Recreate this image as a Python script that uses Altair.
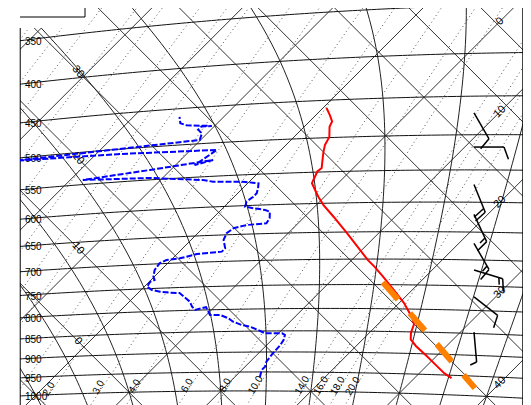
import numpy as np
import pandas as pd
import altair as alt

# ---------------- values ----------------
pressure_levels = [1000, 950, 900, 850, 800, 750, 700, 650, 600, 550, 500, 450, 400, 350]
isotherm_labels = [0, 10, 20, 30, 40]
theta_labels = [0, 10, 20, 30]
mixing_ratios = [0.1, 0.15, 0.2, 0.3, 0.4, 0.6, 0.8, 1.0, 1.5, 2.0, 3.0, 4.0, 6.0, 8.0, 10.0, 14.0, 16.0, 18.0, 20.0]
mixing_labels = [2.0, 3.0, 4.0, 6.0, 8.0, 10.0, 14.0, 16.0, 18.0, 20.0]
moist_thetaw = [-20, -15, -10, -5, 0, 5, 10, 15, 20, 25, 30, 35, 40, 45]

temp_p = [460, 469, 478, 485, 499, 510, 520, 535, 544, 549, 562, 567, 578, 589, 603, 623,
          637, 652, 702, 715, 734, 760, 787, 819, 833, 852, 867, 882, 904, 927, 946, 957]
temp_t = [-9.6, -8.5, -7.5, -7.2, -6.1, -5.7, -5.1, -4.1, -3.5, -3.6, -3.1, -2.9, -1.8, -0.7, 0.8, 3.2,
          4.8, 6.5, 11.8, 13.3, 15.3, 17.9, 20.5, 23.1, 24.0, 24.6, 25.3, 26.6, 28.8, 31.0, 32.8, 34.1]

dew_p = [963.7, 944.9, 936.4, 923.9, 903.1, 883.0, 871.2, 859.5, 855.5, 855.3, 855.3, 847.5, 839.7,
         835.5, 827.7, 819.8, 811.9, 811.5, 794.0, 799.5, 792.1, 781.0, 761.6, 760.3, 757.4, 753.0,
         745.7, 735.5, 732.4, 725.5, 712.1, 699.1, 693.2, 691.0, 683.9, 681.1, 674.9, 659.2, 647.2,
         638.6, 633.6, 631.8, 623.1, 611.8, 608.6, 604.9, 601.8, 593.4, 585.7, 580.2, 572.3, 564.3,
         563.0, 560.8, 559.8, 558.6, 555.1, 547.0, 542.7, 534.5, 525.0, 531.1, 521.3, 510.4, 507.1,
         503.5, 500.1, 494.6, 485.3, 480.2, 475.9, 476.1, 472.9, 469.5, 460.7]
dew_t = [12.8, 12.2, 12.2, 11.8, 11.6, 11.5, 11.3, 10.9, 10.4, 9.4, 8.5, 7.4, 6.1,
         5.0, 3.7, 2.8, 1.5, 0.4, -0.9, -1.8, -2.5, -3.3, -5.4, -6.5, -7.7, -8.8,
         -9.7, -9.9, -9.6, -10.1, -10.7, -10.9, -10.5, -9.2, -7.8, -5.3, -5.3, -6.4, -6.8,
         -6.6, -5.5, -3.5, -3.7, -4.4, -5.1, -6.6, -7.7, -8.1, -7.9, -7.9, -8.3, -8.8,
         -9.5, -10.7, -12.1, -14.0, -15.3, -21.4, -28.6, -22.3, -16.4, -17.9, -17.5, -17.1, -27.4,
         -38.5, -28.9, -20.1, -20.6, -21.4, -21.4, -20.3, -23.2, -24.1, -24.9]

parcel_p = [745, 980]
parcel_t = [15.9, 37.8]

wind_p = [471, 517, 572, 620, 670, 719, 772, 847]
wind_dir = [150, 90, 158, 155, 150, 107, 128, 175]
wind_spd = [10, 10, 20, 15, 15, 15, 10, 5]

# ---------------- tephigram geometry ----------------
KAPPA = 0.286
KS = 286.0           # entropy axis scale
U_MIN, U_MAX = -24.14, 87.15
W_MAX = 85.02
WIDTH, HEIGHT = 503, 397
PX = WIDTH / (U_MAX - U_MIN)          # pixels per unit
W_MIN = W_MAX - HEIGHT / PX


def to_uw(t, p):
    t = np.asarray(t, float)
    p = np.asarray(p, float)
    L = KS * (np.log((t + 273.15) / 273.15) + KAPPA * np.log(1000.0 / p))
    return t + L, L - t


def td_from_w(w, p):
    e = w * p / (622.0 + w)
    g = np.log(e / 6.112)
    return 243.5 * g / (17.67 - g)


def lines_df(curves):
    rows = []
    for cid, (uu, ww) in enumerate(curves):
        for i, (a, b) in enumerate(zip(uu, ww)):
            rows.append({"u": float(a), "w": float(b), "id": cid, "o": i})
    return pd.DataFrame(rows)


tt = np.arange(-100, 70, 0.5)


def isobar_w_at(u0, p):
    uu, ww = to_uw(tt, np.full_like(tt, p))
    return float(np.interp(u0, uu, ww))


# isobars
iso_p = list(range(1100, 199, -50))
isobar_curves = [to_uw(tt, np.full_like(tt, p)) for p in iso_p]

# isotherms (straight)
Ls = np.array([-60.0, 160.0])
isotherm_curves = [(T + Ls, Ls - T) for T in range(-120, 71, 10)]

# dry adiabats (straight)
Tr = np.array([-140.0, 80.0])
dry_curves = []
for th in range(-90, 201, 10):
    L = KS * np.log((th + 273.15) / 273.15)
    dry_curves.append((Tr + L, L - Tr))

# mixing ratio lines
pp = np.arange(1100, 199, -10.0)
mix_curves = [to_uw(td_from_w(w, pp), pp) for w in mixing_ratios]


# moist adiabats (pseudo-adiabatic integration)
def moist_profile(tw):
    Rd, cp, Lv, eps = 287.04, 1005.7, 2.501e6, 0.622

    def f(T, p):
        es = 6.112 * np.exp(17.67 * (T - 273.15) / (T - 273.15 + 243.5))
        rs = eps * es / (p - es)
        return (Rd * T + Lv * rs) / (p * (cp + Lv * Lv * rs * eps / (Rd * T * T)))

    out_p, out_t = [], []
    for p_end in (1100.0, 150.0):
        T = tw + 273.15
        p = 1000.0
        dp = 2.0 if p_end > 1000 else -2.0
        ps, ts = [p], [T]
        while (p < p_end) if dp > 0 else (p > p_end):
            k1 = f(T, p)
            k2 = f(T + 0.5 * dp * k1, p + 0.5 * dp)
            k3 = f(T + 0.5 * dp * k2, p + 0.5 * dp)
            k4 = f(T + dp * k3, p + dp)
            T += dp * (k1 + 2 * k2 + 2 * k3 + k4) / 6
            p += dp
            ps.append(p)
            ts.append(T)
        if dp > 0:
            out_p = ps[::-1] + out_p
            out_t = ts[::-1] + out_t
        else:
            out_p = out_p + ps[1:]
            out_t = out_t + ts[1:]
    return np.array(out_t) - 273.15, np.array(out_p)


moist_curves = []
for tw in moist_thetaw:
    t_, p_ = moist_profile(tw)
    moist_curves.append(to_uw(t_[::5], p_[::5]))

xs = alt.Scale(domain=[U_MIN, U_MAX], nice=False, zero=False)
ys = alt.Scale(domain=[W_MIN, W_MAX], nice=False, zero=False)
X = alt.X("u:Q", scale=xs, axis=None)
Y = alt.Y("w:Q", scale=ys, axis=None)


def grid_layer(curves, color, width=1.0, dash=None, opacity=1.0):
    kw = dict(color=color, strokeWidth=width, clip=True, opacity=opacity)
    if dash:
        kw["strokeDash"] = dash
    return alt.Chart(lines_df(curves)).mark_line(**kw).encode(
        x=X, y=Y, detail="id:N", order="o:Q")


layers = [
    grid_layer(mix_curves, "#555555", 1.0, [1, 3]),
    grid_layer(isotherm_curves, "#333333", 1.0),
    grid_layer(dry_curves, "#333333", 1.0),
    grid_layer(moist_curves, "#222222", 1.0),
    grid_layer(isobar_curves, "#111111", 1.0),
]

# top-left inset box area (blank)
u_box = U_MIN + 68 / PX
w_box_low = W_MAX - 20 / PX
w_box_edge = W_MAX - 9 / PX
box_df = pd.DataFrame({"u": [U_MIN], "u2": [u_box], "w": [w_box_low], "w2": [W_MAX]})
layers.append(alt.Chart(box_df).mark_rect(color="white").encode(
    x=X, x2="u2:Q", y=Y, y2="w2:Q"))
u_box_edge = U_MIN + 65 / PX
edge_df = pd.DataFrame({"u": [U_MIN, u_box_edge], "u2": [u_box_edge, u_box_edge],
                        "w": [w_box_edge, w_box_edge], "w2": [w_box_edge, W_MAX]})
layers.append(alt.Chart(edge_df).mark_rule(color="black", strokeWidth=1).encode(
    x=X, x2="u2:Q", y=Y, y2="w2:Q"))

# frame lines
frame_df = pd.DataFrame({"u": [U_MIN + 0.05, U_MAX - 0.05], "w": [W_MIN, W_MIN],
                         "w2": [w_box_low, W_MAX]})
layers.append(alt.Chart(frame_df).mark_rule(color="black", strokeWidth=1).encode(
    x=X, y=Y, y2="w2:Q"))

# pressure labels at left edge
lab_rows = [{"u": U_MIN, "w": isobar_w_at(U_MIN, p), "txt": str(p)} for p in pressure_levels]
layers.append(alt.Chart(pd.DataFrame(lab_rows)).mark_text(
    align="left", baseline="middle", dx=5, dy=1, font="Liberation Sans", fontSize=10,
    color="black").encode(x=X, y=Y, text="txt:N"))

# isotherm labels near right edge
u_lab = U_MIN + 480 / PX
it_rows = [{"u": u_lab, "w": u_lab - 2 * T, "txt": str(T)} for T in isotherm_labels]
layers.append(alt.Chart(pd.DataFrame(it_rows)).mark_text(
    align="center", baseline="middle", angle=315, font="Liberation Sans", fontSize=11,
    color="black").encode(x=X, y=Y, text="txt:N"))

# dry adiabat labels near left edge
u_th = U_MIN + 58 / PX
th_rows = []
for th in theta_labels:
    L = KS * np.log((th + 273.15) / 273.15)
    th_rows.append({"u": u_th, "w": 2 * L - u_th, "txt": str(th)})
layers.append(alt.Chart(pd.DataFrame(th_rows)).mark_text(
    align="center", baseline="middle", angle=50, font="Liberation Sans", fontSize=11,
    color="black").encode(x=X, y=Y, text="txt:N"))

# mixing ratio labels along the bottom
mx_rows = []
for wv in mixing_labels:
    uu, ww = to_uw(td_from_w(wv, 1000.0), 1000.0)
    mx_rows.append({"u": float(uu), "w": float(ww), "txt": f"{wv:.1f}"})
layers.append(alt.Chart(pd.DataFrame(mx_rows)).mark_text(
    align="center", baseline="middle", angle=300, dx=5, dy=-3, font="Liberation Sans",
    fontSize=10, color="black").encode(x=X, y=Y, text="txt:N"))


def profile_df(t, p):
    uu, ww = to_uw(t, p)
    return pd.DataFrame({"u": uu, "w": ww, "o": np.arange(len(uu))})


layers.append(alt.Chart(profile_df(dew_t, dew_p)).mark_line(
    color="#0000ff", strokeWidth=2, strokeDash=[6, 2], clip=True).encode(x=X, y=Y, order="o:Q"))
layers.append(alt.Chart(profile_df(temp_t, temp_p)).mark_line(
    color="#ff0000", strokeWidth=2, clip=True).encode(x=X, y=Y, order="o:Q"))
layers.append(alt.Chart(profile_df(parcel_t, parcel_p)).mark_line(
    color="#ff8000", strokeWidth=6, strokeDash=[23, 18], strokeCap="butt", clip=True).encode(
    x=X, y=Y, order="o:Q"))

# wind barbs
U_ANCHOR = U_MIN + 454 / PX
STAFF = 30 / PX
FULL, HALF, GAP = 13 / PX, 7 / PX, 4 / PX
rot = np.deg2rad(70)
seg = []
for p, d, s in zip(wind_p, wind_dir, wind_spd):
    u0, w0 = U_ANCHOR, isobar_w_at(U_ANCHOR, p)
    dx, dy = np.sin(np.deg2rad(d)), np.cos(np.deg2rad(d))
    u1, w1 = u0 + dx * STAFF, w0 + dy * STAFF
    seg.append({"u": u0, "w": w0, "u2": u1, "w2": w1})
    fx = dx * np.cos(rot) + dy * np.sin(rot)
    fy = -dx * np.sin(rot) + dy * np.cos(rot)
    n_full, n_half = int(s // 10), int((s % 10) >= 5)
    pos = 0.0
    for k in range(n_full):
        bu, bw = u1 - dx * pos, w1 - dy * pos
        seg.append({"u": bu, "w": bw, "u2": bu + fx * FULL, "w2": bw + fy * FULL})
        pos += GAP
    for k in range(n_half):
        bu, bw = u1 - dx * pos, w1 - dy * pos
        seg.append({"u": bu, "w": bw, "u2": bu + fx * HALF, "w2": bw + fy * HALF})
layers.append(alt.Chart(pd.DataFrame(seg)).mark_rule(color="black", strokeWidth=1.5).encode(
    x=X, x2="u2:Q", y=Y, y2="w2:Q"))

chart = alt.layer(*layers).properties(
    width=WIDTH, height=HEIGHT,
    padding={"left": 12, "top": 0, "right": 0, "bottom": 0},
    autosize=alt.AutoSizeParams(type="none"),
).configure_view(stroke=None)

chart.save("out.html", embed_options={"renderer": "svg", "actions": False})
